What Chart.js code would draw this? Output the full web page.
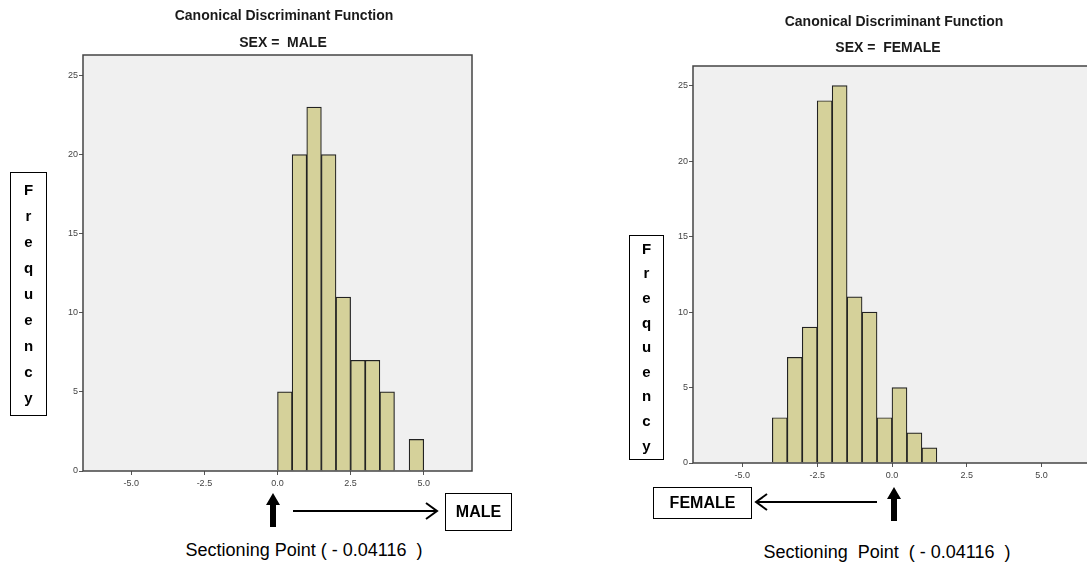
<!DOCTYPE html>
<html>
<head>
<meta charset="utf-8">
<script src="https://cdn.jsdelivr.net/npm/chart.js@4.4.0/dist/chart.umd.min.js"></script>
<style>
  html, body { margin: 0; padding: 0; background: #fff; overflow: hidden; }
  #page { position: relative; width: 1087px; height: 567px; font-family: Arial, "Liberation Sans", sans-serif; }
  canvas { position: absolute; top: 0; }
  .tit { position: absolute; font-weight: bold; font-size: 14px; color: #1a1a1a; white-space: nowrap; transform: translate(-50%, -50%); }
  .freq { position: absolute; border: 1px solid #000; box-sizing: border-box; display: flex; flex-direction: column; align-items: center; justify-content: center; font-weight: bold; font-size: 15px; color: #000; }
  .box { position: absolute; border: 1px solid #000; box-sizing: border-box; display: flex; align-items: center; justify-content: center; font-weight: bold; font-size: 16px; color: #000; }
  .sect { position: absolute; font-size: 18px; color: #000; white-space: pre; transform: translate(-50%, -50%); }
  svg { position: absolute; left: 0; top: 0; }
</style>
</head>
<body>
<div id="page">
  <canvas id="graficaMale" width="500" height="500" style="left:0px"></canvas>
  <canvas id="graficaFemale" width="500" height="500" style="left:600px"></canvas>

  <div class="tit" style="left:284px; top:15px">Canonical Discriminant Function</div>
  <div class="tit" style="left:283px; top:42px">SEX =&nbsp; MALE</div>
  <div class="tit" style="left:894px; top:21px">Canonical Discriminant Function</div>
  <div class="tit" style="left:888px; top:47px">SEX =&nbsp; FEMALE</div>

  <div class="freq" id="freqMale" style="left:10px; top:172px; width:37px; height:244px; line-height:26px"></div>
  <div class="freq" id="freqFemale" style="left:629px; top:235px; width:35px; height:225px; line-height:24.6px"></div>

  <div class="box" style="left:445px; top:493px; width:67px; height:38px">MALE</div>
  <div class="box" style="left:653px; top:487px; width:99px; height:32px">FEMALE</div>

  <div class="sect" style="left:304px; top:550px">Sectioning Point ( - 0.04116  )</div>
  <div class="sect" style="left:887px; top:552px">Sectioning  Point  ( - 0.04116  )</div>

  <svg width="1087" height="567">
    <!-- flechas izquierda -->
    <polygon points="273,493 266,505 270,505 270,527 276,527 276,505 280,505" fill="#000"/>
    <line x1="293" y1="511" x2="437" y2="511" stroke="#000" stroke-width="2"/>
    <polyline points="426,503 437,511 426,519" fill="none" stroke="#000" stroke-width="2"/>
    <!-- flechas derecha -->
    <polygon points="894,487 887,499 891,499 891,521 897,521 897,499 901,499" fill="#000"/>
    <line x1="877" y1="502" x2="756" y2="502" stroke="#000" stroke-width="2"/>
    <polyline points="767,494 756,502 767,510" fill="none" stroke="#000" stroke-width="2"/>
  </svg>
</div>

<script>
// centros de clase (ancho 0.5) y frecuencias
const binsMale = [0.25, 0.75, 1.25, 1.75, 2.25, 2.75, 3.25, 3.75, 4.25, 4.75];
const freqMale = [5, 20, 23, 20, 11, 7, 7, 5, 0, 2];

const binsFemale = [-3.75, -3.25, -2.75, -2.25, -1.75, -1.25, -0.75, -0.25, 0.25, 0.75, 1.25];
const freqFemale = [3, 7, 9, 24, 25, 11, 10, 3, 5, 2, 1];

const xTicks = [-5.0, -2.5, 0.0, 2.5, 5.0];
const yTicks = [0, 5, 10, 15, 20, 25];
const xMin = -6.65, xMax = 6.65, yMax = 26.3;

const etiquetaY = "Frequency";

// letras verticales
["freqMale", "freqFemale"].forEach(id => {
  const el = document.getElementById(id);
  etiquetaY.split("").forEach(c => {
    const s = document.createElement("div");
    s.textContent = c;
    el.appendChild(s);
  });
});

const fondoPlot = {
  id: "fondoPlot",
  beforeDraw(chart) {
    const { ctx, chartArea: a } = chart;
    ctx.save();
    ctx.fillStyle = "#f0f0f0";
    ctx.fillRect(a.left, a.top, a.right - a.left, a.bottom - a.top);
    ctx.restore();
  },
  afterDraw(chart) {
    const { ctx, chartArea: a } = chart;
    ctx.save();
    ctx.strokeStyle = "#444";
    ctx.lineWidth = 1.5;
    ctx.strokeRect(a.left, a.top, a.right - a.left, a.bottom - a.top);
    ctx.restore();
  }
};

function generarHistograma(canvasId, bins, freqs, padding) {
  const ctx = document.getElementById(canvasId).getContext("2d");
  return new Chart(ctx, {
    type: "bar",
    data: {
      datasets: [{
        data: bins.map((b, i) => ({ x: b, y: freqs[i] })),
        backgroundColor: "#d5d19a",
        borderColor: "#222",
        borderWidth: 1.2,
        barPercentage: 1,
        categoryPercentage: 1
      }]
    },
    options: {
      responsive: false,
      animation: false,
      devicePixelRatio: 1,
      layout: { padding: padding },
      plugins: { legend: { display: false }, tooltip: { enabled: false } },
      scales: {
        x: {
          type: "linear",
          min: xMin,
          max: xMax,
          offset: false,
          afterBuildTicks: (s) => { s.ticks = xTicks.map(v => ({ value: v })); },
          afterFit: (s) => { s.height = 20; },
          ticks: {
            callback: (v) => v.toFixed(1),
            color: "#444",
            font: { size: 9, family: "Arial" },
            padding: 3,
            maxRotation: 0
          },
          grid: { offset: false, drawOnChartArea: false, drawTicks: true, tickLength: 4, color: "#555" },
          border: { display: false }
        },
        y: {
          min: 0,
          max: yMax,
          afterBuildTicks: (s) => { s.ticks = yTicks.map(v => ({ value: v })); },
          afterFit: (s) => { s.width = 22; },
          ticks: {
            color: "#444",
            font: { size: 9, family: "Arial" },
            padding: 1
          },
          grid: { drawOnChartArea: false, drawTicks: true, tickLength: 4, color: "#555" },
          border: { display: false }
        }
      }
    },
    plugins: [fondoPlot]
  });
}

generarHistograma("graficaMale", binsMale, freqMale, { left: 61, right: 28, top: 55, bottom: 9 });
generarHistograma("graficaFemale", binsFemale, freqFemale, { left: 71, right: 9, top: 66, bottom: 17 });
</script>
</body>
</html>
